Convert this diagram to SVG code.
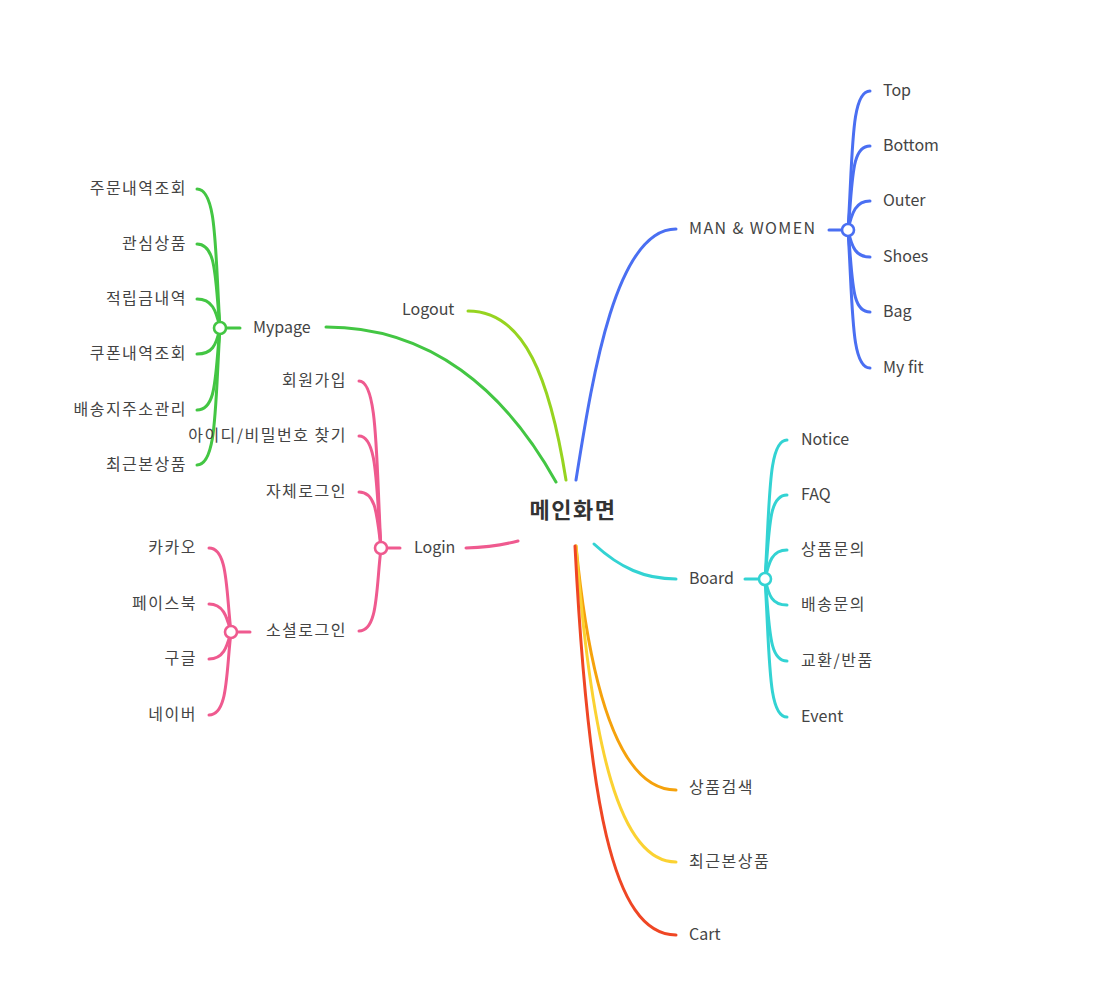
<svg xmlns="http://www.w3.org/2000/svg" width="1095" height="990" viewBox="0 0 1095 990">
<style>
text{font-family:"Noto Sans CJK KR","Noto Sans",sans-serif;font-size:16px;fill:#444}
.k{letter-spacing:1.5px}
.w{letter-spacing:1.4px}
.c{font-size:22px;font-weight:bold;fill:#333;letter-spacing:1.5px}
.e{text-anchor:end}
path{fill:none;stroke-width:3;stroke-linecap:round}
.hub{fill:#fff;stroke-width:2.6}
.bl{stroke:#4a6ff2}.gr{stroke:#43c643}.li{stroke:#96d420}.pk{stroke:#ef5a8f}.cy{stroke:#33d3d3}.or{stroke:#f5a20c}.ye{stroke:#fbd232}.rd{stroke:#ef4624}
</style>
<rect width="1095" height="990" fill="#fff"/>
<g id="connectors">
<path class="bl" d="M576,480 C592,380 615,229 676,229"/>
<path class="li" d="M566,480 C550,380 525,311 468,311"/>
<path class="gr" d="M556,482 C505,390 430,327 326,327"/>
<path class="pk" d="M518,541 Q495,547 466,548"/>
<path class="cy" d="M594,544 C620,568 645,579 676,579"/>
<path class="or" d="M576,546 C590,690 620,790 676,790"/>
<path class="ye" d="M576,546 C592,750 620,862 676,862"/>
<path class="rd" d="M575,546 C588,800 612,935 676,935"/>
<!-- MAN & WOMEN -->
<path class="bl" d="M829,230 L842,230"/>
<path class="bl" d="M848,230 C853,150 851,91 870,91"/>
<path class="bl" d="M848,230 C853,180 851,146 870,146"/>
<path class="bl" d="M848,230 C852,212 856,201 870,201"/>
<path class="bl" d="M848,230 C852,248 856,257 870,257"/>
<path class="bl" d="M848,230 C853,280 851,312 870,312"/>
<path class="bl" d="M848,230 C853,310 851,368 870,368"/>
<!-- Mypage -->
<path class="gr" d="M240,328 L226,328"/>
<path class="gr" d="M220,328 C215,250 217,189 197,189"/>
<path class="gr" d="M220,328 C215,280 217,244 197,244"/>
<path class="gr" d="M220,328 C216,310 212,299 197,299"/>
<path class="gr" d="M220,328 C216,346 212,354 197,354"/>
<path class="gr" d="M220,328 C215,375 217,410 197,410"/>
<path class="gr" d="M220,328 C215,405 217,465 197,465"/>
<!-- Login -->
<path class="pk" d="M400,548 L387,548"/>
<path class="pk" d="M381,548 C376,460 378,381 359,381"/>
<path class="pk" d="M381,548 C376,490 378,436 359,436"/>
<path class="pk" d="M381,548 C377,515 376,492 359,492"/>
<path class="pk" d="M381,548 C376,590 378,631 359,631"/>
<!-- Social login -->
<path class="pk" d="M250,632 L237,632"/>
<path class="pk" d="M231,632 C226,590 228,548 209,548"/>
<path class="pk" d="M231,632 C227,618 224,604 209,604"/>
<path class="pk" d="M231,632 C227,646 224,659 209,659"/>
<path class="pk" d="M231,632 C226,674 228,715 209,715"/>
<!-- Board -->
<path class="cy" d="M745,579 L759,579"/>
<path class="cy" d="M765,579 C770,500 768,440 787,440"/>
<path class="cy" d="M765,579 C770,530 768,495 787,495"/>
<path class="cy" d="M765,579 C769,562 772,550 787,550"/>
<path class="cy" d="M765,579 C769,596 772,605 787,605"/>
<path class="cy" d="M765,579 C770,625 768,661 787,661"/>
<path class="cy" d="M765,579 C770,660 768,717 787,717"/>
</g>
<g id="node-main"><text class="c" x="573" y="518" text-anchor="middle">메인화면</text></g>
<g id="node-manwomen"><text class="w" x="689" y="234">MAN &amp; WOMEN</text><circle class="hub bl" cx="848" cy="230" r="6"/></g>
<g id="node-top"><text x="883" y="96">Top</text></g>
<g id="node-bottom"><text x="883" y="151">Bottom</text></g>
<g id="node-outer"><text x="883" y="206">Outer</text></g>
<g id="node-shoes"><text x="883" y="262">Shoes</text></g>
<g id="node-bag"><text x="883" y="317">Bag</text></g>
<g id="node-myfit"><text x="883" y="373">My fit</text></g>
<g id="node-logout"><text x="402" y="315">Logout</text></g>
<g id="node-mypage"><text x="253" y="333">Mypage</text><circle class="hub gr" cx="220" cy="328" r="6"/></g>
<g id="node-m1"><text class="k e" x="187" y="194">주문내역조회</text></g>
<g id="node-m2"><text class="k e" x="187" y="249">관심상품</text></g>
<g id="node-m3"><text class="k e" x="187" y="304">적립금내역</text></g>
<g id="node-m4"><text class="k e" x="187" y="359">쿠폰내역조회</text></g>
<g id="node-m5"><text class="k e" x="187" y="415">배송지주소관리</text></g>
<g id="node-m6"><text class="k e" x="187" y="470">최근본상품</text></g>
<g id="node-login"><text x="414" y="553">Login</text><circle class="hub pk" cx="381" cy="548" r="6"/></g>
<g id="node-l1"><text class="k e" x="347" y="386">회원가입</text></g>
<g id="node-l2"><text class="k e" x="347" y="441">아이디/비밀번호 찾기</text></g>
<g id="node-l3"><text class="k e" x="347" y="497">자체로그인</text></g>
<g id="node-social"><text class="k e" x="347" y="636">소셜로그인</text><circle class="hub pk" cx="231" cy="632" r="6"/></g>
<g id="node-s1"><text class="k e" x="197" y="553">카카오</text></g>
<g id="node-s2"><text class="k e" x="197" y="609">페이스북</text></g>
<g id="node-s3"><text class="k e" x="197" y="664">구글</text></g>
<g id="node-s4"><text class="k e" x="197" y="720">네이버</text></g>
<g id="node-board"><text x="689" y="584">Board</text><circle class="hub cy" cx="765" cy="579" r="6"/></g>
<g id="node-b1"><text x="801" y="445">Notice</text></g>
<g id="node-b2"><text x="801" y="500">FAQ</text></g>
<g id="node-b3"><text class="k" x="801" y="555">상품문의</text></g>
<g id="node-b4"><text class="k" x="801" y="610">배송문의</text></g>
<g id="node-b5"><text class="k" x="801" y="666">교환/반품</text></g>
<g id="node-b6"><text x="801" y="722">Event</text></g>
<g id="node-search"><text class="k" x="689" y="793">상품검색</text></g>
<g id="node-recent"><text class="k" x="689" y="867">최근본상품</text></g>
<g id="node-cart"><text x="689" y="940">Cart</text></g>
</svg>
